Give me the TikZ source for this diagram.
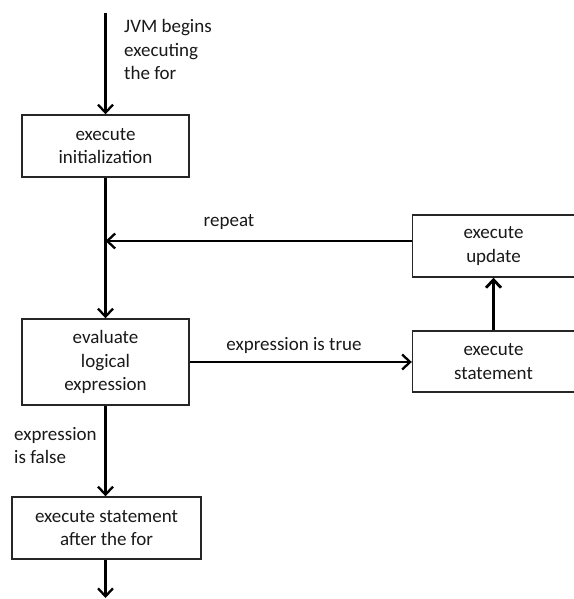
\documentclass[tikz,border=0pt]{standalone}
\usepackage{fontspec}
\setmainfont{Carlito}
\usetikzlibrary{arrows.meta}
\begin{document}
\begin{tikzpicture}[x=1pt,y=-1pt,
  font=\fontsize{19}{23.5}\selectfont,
  box/.style={draw=black!85, line width=1.4pt, fill=white, align=center, inner sep=0pt, text=black!90},
  lbl/.style={inner sep=0pt, text=black!90},
  flow/.style={line width=2.5pt, draw=black, -{Straight Barb[length=8pt,width=15pt,line width=2.3pt]}},
  thickflow/.style={line width=3.6pt, draw=black, -{Straight Barb[length=8pt,width=15pt,line width=2.8pt]}}]
\useasboundingbox (0,0) rectangle (573,599);
\fill[white] (0,0) rectangle (573,599);
% nodes
\node[box, minimum width=167pt, minimum height=62pt] (init) at (105.5,146) {execute\\initialization};
\node[box, minimum width=167pt, minimum height=86pt] (eval) at (105.5,362) {evaluate\\logical\\expression};
\node[box, minimum width=189pt, minimum height=62pt] (after) at (106.5,528) {execute statement\\after the for};
\node[box, minimum width=162pt, minimum height=62pt] (update) at (493.5,246) {execute\\update};
\node[box, minimum width=162pt, minimum height=61pt] (stmt) at (493.5,361.5) {execute\\statement};
% coordinates
\coordinate (start) at (105.5,13);
\coordinate (join) at (105.5,241);
\coordinate (end) at (105.5,598);
% labels
\node[lbl, align=left, anchor=west] (jvm) at (124,49.5) {JVM begins\\executing\\the for};
\node[lbl] (repeat) at (229,222) {repeat};
\node[lbl] (truelbl) at (294,345) {expression is true};
\node[lbl, align=left, anchor=west] (falselbl) at (14,445.5) {expression\\is false};
% connectors
\draw[flow] (start) -- (init.north);
\draw[line width=2.5pt, draw=black] (init.south) -- (join);
\draw[flow] (join) -- (eval.north);
\draw[flow] ([yshift=5pt]update.west) -- (join);
\draw[flow] (eval.east) -- (eval.east -| stmt.west);
\draw[thickflow] (stmt.north) -- (update.south);
\draw[flow] (eval.south) -- (eval.south |- after.north);
\draw[flow] (after.south -| eval.south) -- (end);
\end{tikzpicture}
\end{document}
